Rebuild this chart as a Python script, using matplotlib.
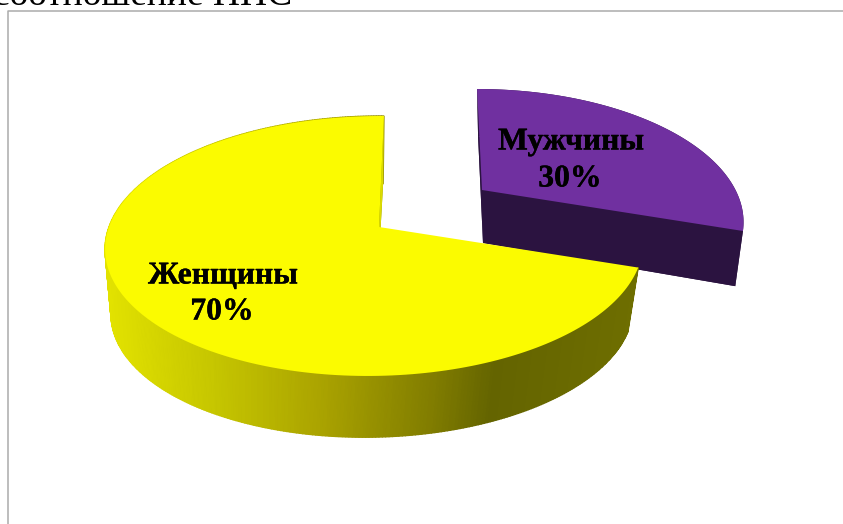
import numpy as np
import matplotlib
matplotlib.use("Agg")
import matplotlib.pyplot as plt
import matplotlib.patheffects as pe
from matplotlib.colors import LinearSegmentedColormap

# data
categories = ["Мужчины", "Женщины"]
shares = [30, 70]
title_text = "соотношение ППС"

# perspective of each disc: cx, cy, A, B, k, m, s (pixels of the picture)
men_top = (482, 190, 253.5, 123.5, 0.223, 0.0, -6)
men_bot = (483, 243, 245, 130, 0.223, 0.0, -6)
women_top = (379, 227, 266, 127.2, 0.146, 0.015, 5.7)
women_bot = (377, 292, 258, 124, 0.146, 0.015, 7)

# theta is clockwise from 12 o'clock
def project(theta, p):
    cx, cy, A, B, k, m, s = p
    u = np.sin(theta)
    v = np.cos(theta)
    w = 1 + k * v + m * u
    return cx + (A * u + s * v) / w, cy - B * v / w

def sector(t0, t1, p):
    t = np.linspace(t0, t1, 200)
    x, y = project(t, p)
    return np.r_[p[0], x], np.r_[p[1], y]

fig = plt.figure(figsize=(8.43, 5.24), dpi=100)
ax = fig.add_axes([0, 0, 1, 1])
ax.set_xlim(0, 843)
ax.set_ylim(524, 0)
ax.axis("off")

plt.rcParams["font.family"] = ["Liberation Serif", "DejaVu Serif"]

# frame and cut-off heading
ax.plot([7.5, 7.5, 843], [524, 10.5, 10.5], color="#ababab", lw=1.1)
ax.text(-7, 5, title_text, fontsize=27, color="black", va="baseline", ha="left")

cut = 2 * np.pi * shares[0] / sum(shares)

# men slice, drawn first, it sits behind
dark = "#2b1340"
ax.fill(*sector(0, cut, men_bot), color=dark, lw=0)
tt = np.linspace(0, cut, 100)
x0, y0 = project(tt, men_top)
x1, y1 = project(tt, men_bot)
ax.fill(np.r_[x0, x1[::-1]], np.r_[y0, y1[::-1]], color=dark, lw=0)
for t in [0, cut]:
    xa, ya = project(t, men_top)
    xb, yb = project(t, men_bot)
    ax.fill([men_top[0], xa, xb, men_bot[0]], [men_top[1], ya, yb, men_bot[1]], color=dark, lw=0)
ax.fill(*sector(0, cut, men_top), color="#7030a0", lw=0)

# women slice: outer wall with a shading that runs left to right
shade = LinearSegmentedColormap.from_list("shade", [(0, "#e2e200"), (0.2, "#c6c600"), (0.4, "#aba400"),
                                                    (0.62, "#807c00"), (0.73, "#646400"), (1, "#6e6e00")])
ax.fill(*sector(cut, 2 * np.pi, women_bot), color="#8a8a00", lw=0)
tt = np.linspace(cut, 2 * np.pi, 400)
for a, b in zip(tt[:-1], tt[1:]):
    xa, ya = project(np.array([a, b]), women_top)
    xb, yb = project(np.array([b, a]), women_bot)
    c = shade((xa.mean() - 105) / (640 - 105))
    ax.fill(np.r_[xa, xb], np.r_[ya, yb], color=c, lw=1.0)

# the straight face at 12 o'clock
xa, ya = project(0, women_top)
xb, yb = project(0, women_bot)
ax.fill([women_top[0], xa, xb, women_bot[0]], [women_top[1], ya, yb, women_bot[1]], color="#dcdc00", lw=0)
ax.fill(*sector(cut, 2 * np.pi, women_top), color="#fbfb00", lw=0)

# labels
fs = 22.8
heavy = [pe.withStroke(linewidth=0.25, foreground="black")]
for x, y, s in [(571, 142, categories[0]), (570, 179, f"{shares[0]}%"),
                (223, 276, categories[1]), (222, 312, f"{shares[1]}%")]:
    ax.text(x, y, s, fontsize=fs, fontweight="bold", ha="center", va="center", path_effects=heavy)

fig.savefig("out.png", dpi=100, facecolor="white")
